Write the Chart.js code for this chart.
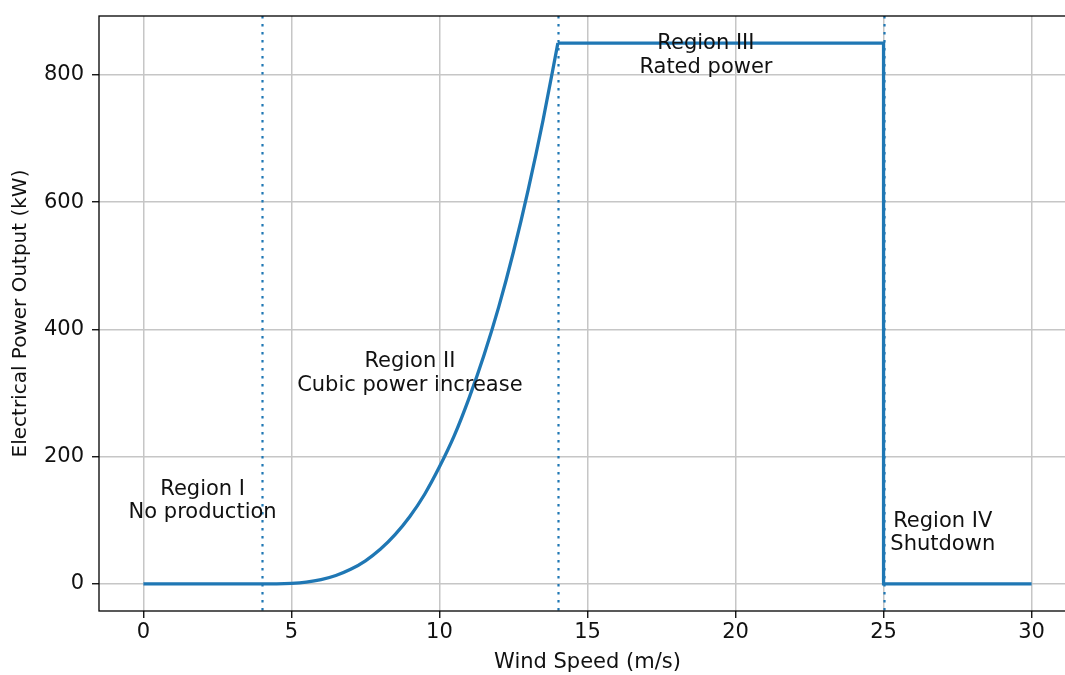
<!DOCTYPE html>
<html>
<head>
<meta charset="utf-8">
<script src="https://cdn.jsdelivr.net/npm/chart.js@4.4.1/dist/chart.umd.min.js"></script>
<style>
  html, body { margin: 0; padding: 0; background: #fff; overflow: hidden; }
  #wrap { width: 1080px; height: 675px; }
</style>
</head>
<body>
<div id="wrap"><canvas id="myChart" width="1080" height="675"></canvas></div>
<script>
// wind speed (m/s) and power (kW)
const rampSpeed = [0, 4, 4.5, 5, 5.5, 6, 6.5, 7, 7.5, 8, 8.5, 9, 9.5, 10, 10.5, 11, 11.5, 12, 12.5, 13, 13.5, 14];
const rampPower = [0, 0, 0.1, 0.9, 2.9, 6.8, 13.3, 23, 36.4, 54.4, 77.5, 106, 141, 184, 233, 292, 359, 435, 522, 620, 729, 850];
const ratedSpeed = [14, 25, 25, 30];
const ratedPower = [850, 850, 0, 0];

// region boundaries (dotted lines)
const cutIn = 4, ratedWind = 14, cutOut = 25;
const boundaries = [cutIn, ratedWind, cutOut];

// annotation texts at data positions
const noteX = [2, 9, 19, 27];
const noteY = [130, 331, 830, 80];
const noteText = [
  ['Region I', 'No production'],
  ['Region II', 'Cubic power increase'],
  ['Region III', 'Rated power'],
  ['Region IV', 'Shutdown'],
];

const xTicks = [0, 5, 10, 15, 20, 25, 30];
const yTicks = [0, 200, 400, 600, 800];

const blue = '#1f77b4';
const FONT = 'DejaVu Sans';

const toPts = (xs, ys) => xs.map((x, i) => ({ x: x, y: ys[i] }));

const regionPlugin = {
  id: 'regions',
  afterDatasetsDraw(chart) {
    const { ctx, chartArea: a, scales: { x, y } } = chart;
    ctx.save();
    ctx.beginPath();
    ctx.rect(a.left, a.top, a.right - a.left, a.bottom - a.top);
    ctx.clip();
    ctx.strokeStyle = blue;
    ctx.lineWidth = 2.2;
    ctx.setLineDash([2.4, 5.6]);
    boundaries.forEach(b => {
      const px = Math.round(x.getPixelForValue(b)) + 0.5;
      ctx.beginPath();
      ctx.moveTo(px, a.top);
      ctx.lineTo(px, a.bottom);
      ctx.stroke();
    });
    ctx.restore();

    // texts
    ctx.save();
    ctx.fillStyle = '#111';
    ctx.font = '21px "' + FONT + '"';
    ctx.textAlign = 'center';
    ctx.textBaseline = 'middle';
    noteText.forEach((lines, i) => {
      const cx = x.getPixelForValue(noteX[i]);
      const cy = y.getPixelForValue(noteY[i]);
      const lh = 23.5;
      lines.forEach((t, j) => {
        ctx.fillText(t, cx, cy + (j - (lines.length - 1) / 2) * lh);
      });
    });
    ctx.restore();
  },
  afterDraw(chart) {
    const { ctx, chartArea: a } = chart;
    ctx.save();
    ctx.strokeStyle = '#000';
    ctx.lineWidth = 1.3;
    ctx.strokeRect(a.left, a.top, a.right - a.left, a.bottom - a.top);
    ctx.restore();
  }
};

const config = {
  type: 'scatter',
  data: {
    datasets: [
      {
        data: toPts(rampSpeed, rampPower),
        showLine: true,
        borderColor: blue,
        borderWidth: 3.3,
        pointRadius: 0,
        cubicInterpolationMode: 'monotone',
      },
      {
        data: toPts(ratedSpeed, ratedPower),
        showLine: true,
        borderColor: blue,
        borderWidth: 3.3,
        pointRadius: 0,
        tension: 0,
      },
    ],
  },
  options: {
    responsive: false,
    animation: false,
    layout: { padding: { top: 16, right: 4, left: 0, bottom: 0 } },
    plugins: { legend: { display: false }, tooltip: { enabled: false } },
    scales: {
      x: {
        type: 'linear',
        min: -1.5,
        max: 31.5,
        afterBuildTicks: s => { s.ticks = xTicks.map(v => ({ value: v })); },
        afterFit: s => { s.height = 64; s.paddingLeft = 0; s.paddingRight = 0; },
        grid: { color: '#c6c6c6', lineWidth: 1.5, tickColor: '#000', tickLength: 7, tickWidth: 1.3 },
        border: { display: false },
        ticks: { color: '#111', font: { family: FONT, size: 21 }, padding: 2, maxRotation: 0 },
        title: { display: true, text: 'Wind Speed (m/s)', color: '#111', font: { family: FONT, size: 21 }, padding: { top: 0, bottom: 0 } },
      },
      y: {
        type: 'linear',
        min: -42.5,
        max: 892.5,
        afterBuildTicks: s => { s.ticks = yTicks.map(v => ({ value: v })); },
        afterFit: s => { s.width = 99; s.paddingTop = 0; s.paddingBottom = 0; },
        grid: { color: '#c6c6c6', lineWidth: 1.5, tickColor: '#000', tickLength: 7, tickWidth: 1.3 },
        border: { display: false },
        ticks: { color: '#111', font: { family: FONT, size: 21 }, padding: 8 },
        title: { display: true, text: 'Electrical Power Output (kW)', color: '#111', font: { family: FONT, size: 20 }, padding: { top: 9, bottom: 0 } },
      },
    },
  },
  plugins: [regionPlugin],
};

const myChart = new Chart(document.getElementById('myChart'), config);
</script>
</body>
</html>
